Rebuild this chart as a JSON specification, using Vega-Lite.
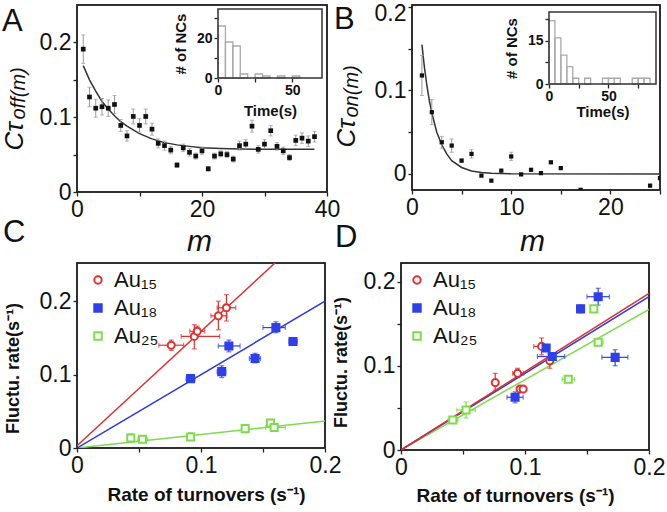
{
  "$schema": "https://vega.github.io/schema/vega-lite/v6.json",
  "background": "white",
  "padding": {"left": 0, "top": 1, "right": 0, "bottom": 0},
  "config": {
    "font": "Liberation Sans",
    "view": {"stroke": "#222", "strokeWidth": 1.5},
    "axis": {"labelFont": "Liberation Sans", "titleFont": "Liberation Sans", "labelFontSize": 23, "labelColor": "#111", "titleColor": "#111", "tickColor": "#222", "tickSize": 4, "tickWidth": 1.3, "labelPadding": 2, "grid": false, "domain": false, "labelFlush": false, "labelOverlap": false, "labelBound": false}
  },
  "datasets": {
    "A_pts": [
      {"m":1,"v":0.191,"lo":0.172,"hi":0.210},{"m":2,"v":0.127,"lo":0.114,"hi":0.140},{"m":3,"v":0.112,"lo":0.100,"hi":0.124},{"m":4,"v":0.114,"lo":0.103,"hi":0.125},{"m":5,"v":0.112,"lo":0.101,"hi":0.123},{"m":6,"v":0.117,"lo":0.105,"hi":0.129},{"m":7,"v":0.089,"lo":0.081,"hi":0.097},{"m":8,"v":0.075,"lo":0.068,"hi":0.082},{"m":9,"v":0.101,"lo":0.091,"hi":0.111},{"m":10,"v":0.089,"lo":0.080,"hi":0.098},{"m":11,"v":0.101,"lo":0.091,"hi":0.111},{"m":12,"v":0.084,"lo":0.076,"hi":0.092},{"m":13,"v":0.065,"lo":0.059,"hi":0.071},{"m":14,"v":0.062,"lo":0.056,"hi":0.068},{"m":15,"v":0.056,"lo":0.051,"hi":0.061},{"m":16,"v":0.036,"lo":0.033,"hi":0.039},{"m":17,"v":0.059,"lo":0.054,"hi":0.064},{"m":18,"v":0.053,"lo":0.048,"hi":0.058},{"m":19,"v":0.048,"lo":0.044,"hi":0.052},{"m":20,"v":0.055,"lo":0.050,"hi":0.060},{"m":21,"v":0.031,"lo":0.028,"hi":0.034},{"m":22,"v":0.048,"lo":0.044,"hi":0.052},{"m":23,"v":0.051,"lo":0.047,"hi":0.055},{"m":24,"v":0.050,"lo":0.046,"hi":0.054},{"m":25,"v":0.044,"lo":0.040,"hi":0.048},{"m":26,"v":0.062,"lo":0.056,"hi":0.068},{"m":27,"v":0.064,"lo":0.058,"hi":0.070},{"m":28,"v":0.088,"lo":0.080,"hi":0.096},{"m":29,"v":0.057,"lo":0.052,"hi":0.062},{"m":30,"v":0.064,"lo":0.058,"hi":0.070},{"m":31,"v":0.082,"lo":0.075,"hi":0.089},{"m":32,"v":0.061,"lo":0.056,"hi":0.066},{"m":33,"v":0.055,"lo":0.050,"hi":0.060},{"m":34,"v":0.046,"lo":0.042,"hi":0.050},{"m":35,"v":0.069,"lo":0.062,"hi":0.076},{"m":36,"v":0.072,"lo":0.065,"hi":0.079},{"m":37,"v":0.068,"lo":0.061,"hi":0.075},{"m":38,"v":0.074,"lo":0.067,"hi":0.081}
    ],
    "A_curve": [
      {"m":1,"v":0.169},{"m":2,"v":0.150},{"m":3,"v":0.135},{"m":4,"v":0.121},{"m":5,"v":0.111},{"m":6,"v":0.102},{"m":7,"v":0.094},{"m":8,"v":0.088},{"m":9,"v":0.083},{"m":10,"v":0.078},{"m":12,"v":0.071},{"m":14,"v":0.066},{"m":16,"v":0.063},{"m":18,"v":0.061},{"m":20,"v":0.059},{"m":23,"v":0.058},{"m":26,"v":0.0575},{"m":30,"v":0.057},{"m":38,"v":0.057}
    ],
    "A_hist": [
      {"t0":0,"t1":5,"n":26},{"t0":5,"t1":10,"n":18},{"t0":10,"t1":15,"n":16},{"t0":15,"t1":20,"n":2},{"t0":25,"t1":30,"n":2},{"t0":30,"t1":35,"n":1},{"t0":40,"t1":45,"n":1},{"t0":50,"t1":55,"n":1}
    ],
    "B_pts": [
      {"m":1,"v":0.118,"lo":0.094,"hi":0.142},{"m":2,"v":0.074,"lo":0.059,"hi":0.089},{"m":3,"v":0.038,"lo":0.031,"hi":0.045},{"m":4,"v":0.034,"lo":0.026,"hi":0.042},{"m":5,"v":0.016,"lo":0.014,"hi":0.018},{"m":6,"v":0.024,"lo":0.019,"hi":0.029},{"m":7,"v":-0.002},{"m":8,"v":-0.008},{"m":9,"v":0.004},{"m":10,"v":0.021,"lo":0.016,"hi":0.026},{"m":11,"v":-0.0005},{"m":12,"v":0.005},{"m":13,"v":0.001},{"m":14,"v":0.014},{"m":15,"v":0.007},{"m":17,"v":-0.019},{"m":24,"v":-0.014},{"m":25,"v":-0.005}
    ],
    "B_curve": [
      {"m":1,"v":0.155},{"m":1.25,"v":0.128},{"m":1.5,"v":0.106},{"m":1.75,"v":0.088},{"m":2,"v":0.073},{"m":2.5,"v":0.050},{"m":3,"v":0.035},{"m":3.5,"v":0.024},{"m":4,"v":0.016},{"m":5,"v":0.0078},{"m":6,"v":0.0036},{"m":7,"v":0.0017},{"m":8,"v":0.0008},{"m":10,"v":0.0002},{"m":25,"v":0}
    ],
    "B_hist": [
      {"t0":0,"t1":5,"n":22},{"t0":5,"t1":10,"n":16},{"t0":10,"t1":15,"n":10},{"t0":15,"t1":20,"n":6},{"t0":20,"t1":25,"n":2},{"t0":30,"t1":35,"n":2},{"t0":45,"t1":50,"n":2},{"t0":50,"t1":55,"n":2},{"t0":55,"t1":60,"n":2},{"t0":70,"t1":75,"n":2},{"t0":75,"t1":80,"n":2},{"t0":80,"t1":85,"n":2}
    ],
    "C_pts": [
      {"s":"Au₁₅","x":0.076,"y":0.140,"xlo":0.066,"xhi":0.086,"ylo":0.133,"yhi":0.147},
      {"s":"Au₁₅","x":0.0946,"y":0.152,"xlo":0.084,"xhi":0.115,"ylo":0.135,"yhi":0.168},
      {"s":"Au₁₅","x":0.097,"y":0.159,"xlo":0.091,"xhi":0.103,"ylo":0.152,"yhi":0.166},
      {"s":"Au₁₅","x":0.114,"y":0.180,"xlo":0.108,"xhi":0.121,"ylo":0.161,"yhi":0.200},
      {"s":"Au₁₅","x":0.1205,"y":0.191,"xlo":0.113,"xhi":0.128,"ylo":0.173,"yhi":0.209},
      {"s":"Au₁₈","x":0.0916,"y":0.0945,"xlo":0.088,"xhi":0.095,"ylo":0.090,"yhi":0.099},
      {"s":"Au₁₈","x":0.1167,"y":0.104,"xlo":0.113,"xhi":0.120,"ylo":0.096,"yhi":0.112},
      {"s":"Au₁₈","x":0.1225,"y":0.139,"xlo":0.114,"xhi":0.1315,"ylo":0.131,"yhi":0.147},
      {"s":"Au₁₈","x":0.1436,"y":0.122,"xlo":0.139,"xhi":0.148,"ylo":0.116,"yhi":0.129},
      {"s":"Au₁₈","x":0.1604,"y":0.164,"xlo":0.150,"xhi":0.168,"ylo":0.157,"yhi":0.172},
      {"s":"Au₁₈","x":0.1742,"y":0.145,"xlo":0.171,"xhi":0.1775,"ylo":0.142,"yhi":0.148},
      {"s":"Au₂₅","x":0.0434,"y":0.0136,"ylo":0.008,"yhi":0.0195},
      {"s":"Au₂₅","x":0.0528,"y":0.012,"xlo":0.049,"xhi":0.057},
      {"s":"Au₂₅","x":0.0916,"y":0.015,"ylo":0.010,"yhi":0.021},
      {"s":"Au₂₅","x":0.1356,"y":0.0264},
      {"s":"Au₂₅","x":0.156,"y":0.034,"ylo":0.030,"yhi":0.037},
      {"s":"Au₂₅","x":0.159,"y":0.028,"xlo":0.152,"xhi":0.168}
    ],
    "C_lines": [
      {"s":"Au₂₅","x":0,"y":0},{"s":"Au₂₅","x":0.2,"y":0.0368},
      {"s":"Au₁₈","x":0,"y":0},{"s":"Au₁₈","x":0.2,"y":0.2},
      {"s":"Au₁₅","x":0,"y":0.003},{"s":"Au₁₅","x":0.2,"y":0.315}
    ],
    "D_pts": [
      {"s":"Au₁₅","x":0.076,"y":0.080,"ylo":0.071,"yhi":0.091},
      {"s":"Au₁₅","x":0.094,"y":0.091,"xlo":0.090,"xhi":0.099,"ylo":0.086,"yhi":0.097},
      {"s":"Au₁₅","x":0.096,"y":0.0725},
      {"s":"Au₁₅","x":0.0985,"y":0.0725},
      {"s":"Au₁₅","x":0.1134,"y":0.123,"xlo":0.107,"xhi":0.120,"ylo":0.113,"yhi":0.133},
      {"s":"Au₁₅","x":0.120,"y":0.106,"ylo":0.097,"yhi":0.114},
      {"s":"Au₁₈","x":0.092,"y":0.0626,"xlo":0.0855,"xhi":0.0985,"ylo":0.056,"yhi":0.069},
      {"s":"Au₁₈","x":0.117,"y":0.121},
      {"s":"Au₁₈","x":0.122,"y":0.111,"xlo":0.110,"xhi":0.132},
      {"s":"Au₁₈","x":0.1448,"y":0.1675,"ylo":0.163,"yhi":0.172},
      {"s":"Au₁₈","x":0.159,"y":0.182,"xlo":0.150,"xhi":0.168,"ylo":0.172,"yhi":0.192},
      {"s":"Au₁₈","x":0.1727,"y":0.110,"xlo":0.162,"xhi":0.183,"ylo":0.100,"yhi":0.119},
      {"s":"Au₂₅","x":0.0418,"y":0.0356,"xlo":0.038,"xhi":0.046},
      {"s":"Au₂₅","x":0.0525,"y":0.0475,"xlo":0.045,"xhi":0.060,"ylo":0.038,"yhi":0.057},
      {"s":"Au₂₅","x":0.1349,"y":0.084,"xlo":0.130,"xhi":0.140},
      {"s":"Au₂₅","x":0.1555,"y":0.1675},
      {"s":"Au₂₅","x":0.159,"y":0.128,"xlo":0.156,"xhi":0.163}
    ],
    "D_lines": [
      {"s":"Au₂₅","x":0,"y":0},{"s":"Au₂₅","x":0.2,"y":0.167},
      {"s":"Au₁₈","x":0,"y":0},{"s":"Au₁₈","x":0.2,"y":0.182},
      {"s":"Au₁₅","x":0,"y":0},{"s":"Au₁₅","x":0.2,"y":0.186}
    ]
  },
  "spacing": -41,
  "resolve": {"scale": {"fill": "independent", "stroke": "independent", "shape": "independent"}, "legend": {"fill": "independent", "stroke": "independent", "shape": "independent"}},
  "vconcat": [
    {
      "hconcat": [
        {
          "width": 250, "height": 187,
          "title": {"text": "A", "anchor": "start", "frame": "group", "dx": -75, "dy": 34, "baseline": "top", "offset": 0, "fontSize": 31, "fontWeight": "normal", "font": "Liberation Sans", "color": "#111"},
          "resolve": {"scale": {"x": "independent", "y": "independent"}},
          "layer": [
            {
              "layer": [
                {
                  "data": {"values": [{}]},
                  "mark": {"type": "rect", "fill": "transparent", "stroke": "#222", "strokeWidth": 1.5},
                  "encoding": {
                    "x": {"datum": 0, "type": "quantitative", "title": "m", "scale": {"domain": [0, 40], "nice": false}, "axis": {"values": [0, 10, 20, 30, 40], "labelExpr": "indexof([0,20,40], datum.value) >= 0 ? toString(datum.value) : ''", "title": "m", "titleFontSize": 30, "titleFontStyle": "italic", "titleFontWeight": "normal", "titleBaseline": "alphabetic", "titleX": 122, "titleY": 58}},
                    "x2": {"datum": 40},
                    "y": {"datum": 0, "type": "quantitative", "title": "Cτ", "scale": {"domain": [0, 0.25], "nice": false}, "axis": {"values": [0, 0.05, 0.1, 0.15, 0.2], "labelExpr": "indexof([0,0.1,0.2], datum.value) >= 0 ? toString(datum.value) : ''", "title": "Cτ", "titleFontSize": 26, "titleFontStyle": "italic", "titleFontWeight": "normal", "titleAngle": 270, "titleAlign": "left", "titleBaseline": "alphabetic", "titleX": -55, "titleY": 145}},
                    "y2": {"datum": 0.25}
                  }
                },
                {
                  "data": {"name": "A_curve"},
                  "mark": {"type": "line", "color": "#333", "strokeWidth": 1.5},
                  "encoding": {
                    "x": {"field": "m", "type": "quantitative", "title": "m"},
                    "y": {"field": "v", "type": "quantitative", "title": "Cτ"}
                  }
                },
                {
                  "data": {"name": "A_pts"},
                  "mark": {"type": "errorbar", "ticks": true, "size": 4, "color": "#999", "thickness": 1},
                  "encoding": {
                    "x": {"field": "m", "type": "quantitative", "title": "m"},
                    "y": {"field": "lo", "type": "quantitative", "title": "Cτ"},
                    "y2": {"field": "hi"}
                  }
                },
                {
                  "data": {"name": "A_pts"},
                  "mark": {"type": "point", "shape": "square", "filled": true, "color": "#111", "size": 22, "opacity": 1},
                  "encoding": {
                    "x": {"field": "m", "type": "quantitative", "title": "m"},
                    "y": {"field": "v", "type": "quantitative", "title": "Cτ"}
                  }
                }
              ]
            },
            {
              "layer": [
                {
                  "data": {"name": "A_hist"},
                  "mark": {"type": "rect", "fill": "transparent", "stroke": "#aaa", "strokeWidth": 1.3},
                  "encoding": {
                    "x": {"field": "t0", "type": "quantitative", "title": "Time(s)", "scale": {"domain": [0, 70], "range": [141, 245], "nice": false, "zero": false}, "axis": {"orient": "bottom", "offset": -114, "values": [0, 25, 50], "labelExpr": "datum.value == 25 ? '' : toString(datum.value)", "labelFontSize": 14, "labelFontWeight": "bold", "labelPadding": 1, "tickSize": 4, "title": "Time(s)", "titleFontSize": 15, "titleFontWeight": "bold", "titlePadding": 6}},
                    "x2": {"field": "t1"},
                    "y": {"field": "n", "type": "quantitative", "title": "# of NCs", "scale": {"domain": [0, 34.5], "range": [73, 4], "nice": false}, "axis": {"orient": "left", "offset": -141, "values": [0, 10, 20, 30], "labelExpr": "datum.value == 0 || datum.value == 20 ? toString(datum.value) : ''", "labelFontSize": 14, "labelFontWeight": "bold", "labelPadding": 2, "tickSize": 4, "title": "# of NCs", "titleFontSize": 15, "titleFontWeight": "bold", "titlePadding": 8}},
                    "y2": {"datum": 0}
                  }
                },
                {
                  "data": {"values": [{}]},
                  "mark": {"type": "rect", "fill": "transparent", "stroke": "#333", "strokeWidth": 1.5},
                  "encoding": {
                    "x": {"datum": 0, "type": "quantitative", "title": "Time(s)"},
                    "x2": {"datum": 70},
                    "y": {"datum": 0, "type": "quantitative", "title": "# of NCs"},
                    "y2": {"datum": 34.5}
                  }
                }
              ]
            },
            {
              "data": {"values": [{}]},
              "mark": {"type": "text", "text": ""},
              "encoding": {
                "y": {"datum": 0, "type": "quantitative", "scale": {"domain": [0, 1]}, "axis": {"orient": "left", "domain": false, "ticks": false, "labels": false, "grid": false, "title": "off(m)", "titleFontSize": 20, "titleFontStyle": "italic", "titleFontWeight": "normal", "titleAngle": 270, "titleAlign": "left", "titleBaseline": "alphabetic", "titleX": -53, "titleY": 114}}
              }
            }
          ]
        },
        {
          "width": 248, "height": 185,
          "title": {"text": "B", "anchor": "start", "frame": "group", "dx": -78, "dy": 34, "baseline": "top", "offset": 0, "fontSize": 31, "fontWeight": "normal", "font": "Liberation Sans", "color": "#111"},
          "resolve": {"scale": {"x": "independent", "y": "independent"}},
          "layer": [
            {
              "layer": [
                {
                  "data": {"values": [{}]},
                  "mark": {"type": "rect", "fill": "transparent", "stroke": "#222", "strokeWidth": 1.5},
                  "encoding": {
                    "x": {"datum": 0, "type": "quantitative", "title": "m", "scale": {"domain": [0, 25], "nice": false}, "axis": {"values": [0, 5, 10, 15, 20, 25], "labelExpr": "indexof([0,10,20], datum.value) >= 0 ? toString(datum.value) : ''", "title": "m", "titleFontSize": 30, "titleFontStyle": "italic", "titleFontWeight": "normal", "titleBaseline": "alphabetic", "titleX": 120, "titleY": 60}},
                    "x2": {"datum": 25},
                    "y": {"datum": -0.0192, "type": "quantitative", "title": "Cτ", "scale": {"domain": [-0.0192, 0.2024], "nice": false, "zero": false}, "axis": {"values": [0, 0.05, 0.1, 0.15, 0.2], "labelExpr": "indexof([0,0.1,0.2], datum.value) >= 0 ? toString(datum.value) : ''", "labelOffset": {"condition": {"test": "datum.value == 0.2", "value": 6}, "value": 0}, "title": "Cτ", "titleFontSize": 26, "titleFontStyle": "italic", "titleFontWeight": "normal", "titleAngle": 270, "titleAlign": "left", "titleBaseline": "alphabetic", "titleX": -58, "titleY": 142}},
                    "y2": {"datum": 0.2024}
                  }
                },
                {
                  "data": {"name": "B_curve"},
                  "mark": {"type": "line", "color": "#333", "strokeWidth": 1.5},
                  "encoding": {
                    "x": {"field": "m", "type": "quantitative", "title": "m"},
                    "y": {"field": "v", "type": "quantitative", "title": "Cτ"}
                  }
                },
                {
                  "data": {"name": "B_pts"},
                  "transform": [{"filter": "isValid(datum.lo)"}],
                  "mark": {"type": "errorbar", "ticks": true, "size": 4, "color": "#999", "thickness": 1},
                  "encoding": {
                    "x": {"field": "m", "type": "quantitative", "title": "m"},
                    "y": {"field": "lo", "type": "quantitative", "title": "Cτ"},
                    "y2": {"field": "hi"}
                  }
                },
                {
                  "data": {"name": "B_pts"},
                  "mark": {"type": "point", "shape": "square", "filled": true, "color": "#111", "size": 18, "opacity": 1, "clip": true},
                  "encoding": {
                    "x": {"field": "m", "type": "quantitative", "title": "m"},
                    "y": {"field": "v", "type": "quantitative", "title": "Cτ"}
                  }
                }
              ]
            },
            {
              "layer": [
                {
                  "data": {"name": "B_hist"},
                  "mark": {"type": "rect", "fill": "transparent", "stroke": "#aaa", "strokeWidth": 1.3},
                  "encoding": {
                    "x": {"field": "t0", "type": "quantitative", "title": "Time(s)", "scale": {"domain": [0, 90], "range": [137, 244], "nice": false, "zero": false}, "axis": {"orient": "bottom", "offset": -106, "values": [0, 25, 50, 75], "labelExpr": "datum.value == 0 || datum.value == 50 ? toString(datum.value) : ''", "labelFontSize": 14, "labelFontWeight": "bold", "labelPadding": 1, "tickSize": 4, "title": "Time(s)", "titleFontSize": 15, "titleFontWeight": "bold", "titlePadding": 1}},
                    "x2": {"field": "t1"},
                    "y": {"field": "n", "type": "quantitative", "title": "# of NCs", "scale": {"domain": [0, 25], "range": [79, 7], "nice": false}, "axis": {"orient": "left", "offset": -137, "values": [0, 7.5, 15, 22.5], "labelExpr": "datum.value == 0 || datum.value == 15 ? toString(datum.value) : ''", "labelFontSize": 14, "labelFontWeight": "bold", "labelPadding": 2, "tickSize": 4, "title": "# of NCs", "titleFontSize": 15, "titleFontWeight": "bold", "titlePadding": 8}},
                    "y2": {"datum": 0}
                  }
                },
                {
                  "data": {"values": [{}]},
                  "mark": {"type": "rect", "fill": "transparent", "stroke": "#333", "strokeWidth": 1.5},
                  "encoding": {
                    "x": {"datum": 0, "type": "quantitative", "title": "Time(s)"},
                    "x2": {"datum": 90},
                    "y": {"datum": 0, "type": "quantitative", "title": "# of NCs"},
                    "y2": {"datum": 25}
                  }
                }
              ]
            },
            {
              "data": {"values": [{}]},
              "mark": {"type": "text", "text": ""},
              "encoding": {
                "y": {"datum": 0, "type": "quantitative", "scale": {"domain": [0, 1]}, "axis": {"orient": "left", "domain": false, "ticks": false, "labels": false, "grid": false, "title": "on(m)", "titleFontSize": 20, "titleFontStyle": "italic", "titleFontWeight": "normal", "titleAngle": 270, "titleAlign": "left", "titleBaseline": "alphabetic", "titleX": -55, "titleY": 112}}
              }
            }
          ]
        }
      ],
      "spacing": 85,
      "bounds": "flush"
    },
    {
      "hconcat": [
        {
          "width": 248, "height": 185,
          "title": {"text": "C", "anchor": "start", "frame": "group", "dx": -74, "dy": -13, "baseline": "top", "offset": 0, "fontSize": 31, "fontWeight": "normal", "font": "Liberation Sans", "color": "#111"},
          "layer": [
            {
              "data": {"values": [{}]},
              "mark": {"type": "rect", "fill": "transparent", "stroke": "#222", "strokeWidth": 1.5},
              "encoding": {
                "x": {"datum": 0, "type": "quantitative", "title": "Rate of turnovers (s⁻¹)", "scale": {"domain": [0, 0.2], "nice": false}, "axis": {"values": [0, 0.05, 0.1, 0.15, 0.2], "labelExpr": "indexof([0,0.1,0.2], datum.value) >= 0 ? toString(datum.value) : ''", "title": "Rate of turnovers (s⁻¹)", "titleFontSize": 19, "titleFontWeight": "bold", "titleBaseline": "alphabetic", "titleX": 129, "titleY": 52}},
                "x2": {"datum": 0.2},
                "y": {"datum": 0, "type": "quantitative", "title": "Fluctu. rate(s⁻¹)", "scale": {"domain": [0, 0.252], "nice": false}, "axis": {"values": [0, 0.05, 0.1, 0.15, 0.2, 0.25], "labelExpr": "indexof([0,0.1,0.2], datum.value) >= 0 ? toString(datum.value) : ''", "title": "Fluctu. rate(s⁻¹)", "titleFontSize": 18, "titleFontWeight": "bold", "titleAngle": 270, "titleAlign": "center", "titleBaseline": "alphabetic", "titleX": -59, "titleY": 105}},
                "y2": {"datum": 0.252}
              }
            },
            {"data": {"name": "C_lines"}, "transform": [{"filter": "datum.s == 'Au₂₅'"}], "mark": {"type": "line", "color": "#7ddc4a", "strokeWidth": 1.5, "clip": true}, "encoding": {"x": {"field": "x", "type": "quantitative", "title": "Rate of turnovers (s⁻¹)"}, "y": {"field": "y", "type": "quantitative", "title": "Fluctu. rate(s⁻¹)"}}},
            {"data": {"name": "C_lines"}, "transform": [{"filter": "datum.s == 'Au₁₈'"}], "mark": {"type": "line", "color": "#2a36e0", "strokeWidth": 1.5, "clip": true}, "encoding": {"x": {"field": "x", "type": "quantitative", "title": "Rate of turnovers (s⁻¹)"}, "y": {"field": "y", "type": "quantitative", "title": "Fluctu. rate(s⁻¹)"}}},
            {"data": {"name": "C_lines"}, "transform": [{"filter": "datum.s == 'Au₁₅'"}], "mark": {"type": "line", "color": "#dd3030", "strokeWidth": 1.5, "clip": true}, "encoding": {"x": {"field": "x", "type": "quantitative", "title": "Rate of turnovers (s⁻¹)"}, "y": {"field": "y", "type": "quantitative", "title": "Fluctu. rate(s⁻¹)"}}},
            {"data": {"name": "C_pts"}, "transform": [{"filter": "isValid(datum.ylo) && datum.s == 'Au₁₅'"}], "mark": {"type": "errorbar", "ticks": true, "size": 5, "thickness": 1.2, "color": "#e03030"}, "encoding": {"x": {"field": "x", "type": "quantitative", "title": "Rate of turnovers (s⁻¹)"}, "y": {"field": "ylo", "type": "quantitative", "title": "Fluctu. rate(s⁻¹)"}, "y2": {"field": "yhi"}}},
            {"data": {"name": "C_pts"}, "transform": [{"filter": "isValid(datum.ylo) && datum.s == 'Au₁₈'"}], "mark": {"type": "errorbar", "ticks": true, "size": 5, "thickness": 1.2, "color": "#3040e8"}, "encoding": {"x": {"field": "x", "type": "quantitative", "title": "Rate of turnovers (s⁻¹)"}, "y": {"field": "ylo", "type": "quantitative", "title": "Fluctu. rate(s⁻¹)"}, "y2": {"field": "yhi"}}},
            {"data": {"name": "C_pts"}, "transform": [{"filter": "isValid(datum.ylo) && datum.s == 'Au₂₅'"}], "mark": {"type": "errorbar", "ticks": true, "size": 5, "thickness": 1.2, "color": "#7ddc4a"}, "encoding": {"x": {"field": "x", "type": "quantitative", "title": "Rate of turnovers (s⁻¹)"}, "y": {"field": "ylo", "type": "quantitative", "title": "Fluctu. rate(s⁻¹)"}, "y2": {"field": "yhi"}}},
            {"data": {"name": "C_pts"}, "transform": [{"filter": "isValid(datum.xlo) && datum.s == 'Au₁₅'"}], "mark": {"type": "errorbar", "ticks": true, "size": 5, "thickness": 1.2, "color": "#e03030", "orient": "horizontal"}, "encoding": {"y": {"field": "y", "type": "quantitative", "title": "Fluctu. rate(s⁻¹)"}, "x": {"field": "xlo", "type": "quantitative", "title": "Rate of turnovers (s⁻¹)"}, "x2": {"field": "xhi"}}},
            {"data": {"name": "C_pts"}, "transform": [{"filter": "isValid(datum.xlo) && datum.s == 'Au₁₈'"}], "mark": {"type": "errorbar", "ticks": true, "size": 5, "thickness": 1.2, "color": "#3040e8", "orient": "horizontal"}, "encoding": {"y": {"field": "y", "type": "quantitative", "title": "Fluctu. rate(s⁻¹)"}, "x": {"field": "xlo", "type": "quantitative", "title": "Rate of turnovers (s⁻¹)"}, "x2": {"field": "xhi"}}},
            {"data": {"name": "C_pts"}, "transform": [{"filter": "isValid(datum.xlo) && datum.s == 'Au₂₅'"}], "mark": {"type": "errorbar", "ticks": true, "size": 5, "thickness": 1.2, "color": "#7ddc4a", "orient": "horizontal"}, "encoding": {"y": {"field": "y", "type": "quantitative", "title": "Fluctu. rate(s⁻¹)"}, "x": {"field": "xlo", "type": "quantitative", "title": "Rate of turnovers (s⁻¹)"}, "x2": {"field": "xhi"}}},
            {
              "data": {"name": "C_pts"},
              "mark": {"type": "point", "size": 50, "strokeWidth": 2, "opacity": 1},
              "encoding": {
                "x": {"field": "x", "type": "quantitative", "title": "Rate of turnovers (s⁻¹)"},
                "y": {"field": "y", "type": "quantitative", "title": "Fluctu. rate(s⁻¹)"},
                "shape": {"field": "s", "type": "nominal", "scale": {"domain": ["Au₁₅", "Au₁₈", "Au₂₅"], "range": ["circle", "square", "square"]}, "legend": {"orient": "none", "legendX": 10, "legendY": 6, "title": null, "labelFontSize": 22, "labelFont": "Liberation Sans", "labelColor": "#111", "symbolSize": 55, "symbolStrokeWidth": 2, "rowPadding": 6, "padding": 0, "labelOffset": 5}},
                "stroke": {"field": "s", "type": "nominal", "scale": {"domain": ["Au₁₅", "Au₁₈", "Au₂₅"], "range": ["#e03030", "#3040e8", "#7ddc4a"]}, "legend": {"orient": "none", "legendX": 10, "legendY": 6, "title": null, "labelFontSize": 22, "labelFont": "Liberation Sans", "labelColor": "#111", "symbolSize": 55, "symbolStrokeWidth": 2, "rowPadding": 6, "padding": 0, "labelOffset": 5}},
                "fill": {"field": "s", "type": "nominal", "scale": {"domain": ["Au₁₅", "Au₁₈", "Au₂₅"], "range": ["white", "#3040e8", "white"]}, "legend": {"orient": "none", "legendX": 10, "legendY": 6, "title": null, "labelFontSize": 22, "labelFont": "Liberation Sans", "labelColor": "#111", "symbolSize": 55, "symbolStrokeWidth": 2, "rowPadding": 6, "padding": 0, "labelOffset": 5}}
              }
            }
          ]
        },
        {
          "width": 248, "height": 187,
          "title": {"text": "D", "anchor": "start", "frame": "group", "dx": -66, "dy": -8, "baseline": "top", "offset": 0, "fontSize": 31, "fontWeight": "normal", "font": "Liberation Sans", "color": "#111"},
          "layer": [
            {
              "data": {"values": [{}]},
              "mark": {"type": "rect", "fill": "transparent", "stroke": "#222", "strokeWidth": 1.5},
              "encoding": {
                "x": {"datum": 0, "type": "quantitative", "title": "Rate of turnovers (s⁻¹)", "scale": {"domain": [0, 0.2], "nice": false}, "axis": {"values": [0, 0.05, 0.1, 0.15, 0.2], "labelExpr": "indexof([0,0.1,0.2], datum.value) >= 0 ? toString(datum.value) : ''", "title": "Rate of turnovers (s⁻¹)", "titleFontSize": 19, "titleFontWeight": "bold", "titleBaseline": "alphabetic", "titleX": 114, "titleY": 51}},
                "x2": {"datum": 0.2},
                "y": {"datum": 0, "type": "quantitative", "title": "Fluctu. rate(s⁻¹)", "scale": {"domain": [0, 0.222], "nice": false}, "axis": {"values": [0, 0.05, 0.1, 0.15, 0.2], "labelExpr": "indexof([0,0.1,0.2], datum.value) >= 0 ? toString(datum.value) : ''", "title": "Fluctu. rate(s⁻¹)", "titleFontSize": 18, "titleFontWeight": "bold", "titleAngle": 270, "titleAlign": "center", "titleBaseline": "alphabetic", "titleX": -55, "titleY": 99}},
                "y2": {"datum": 0.222}
              }
            },
            {"data": {"name": "D_lines"}, "transform": [{"filter": "datum.s == 'Au₂₅'"}], "mark": {"type": "line", "color": "#7ddc4a", "strokeWidth": 1.5, "clip": true}, "encoding": {"x": {"field": "x", "type": "quantitative", "title": "Rate of turnovers (s⁻¹)"}, "y": {"field": "y", "type": "quantitative", "title": "Fluctu. rate(s⁻¹)"}}},
            {"data": {"name": "D_lines"}, "transform": [{"filter": "datum.s == 'Au₁₈'"}], "mark": {"type": "line", "color": "#2a36e0", "strokeWidth": 1.5, "clip": true}, "encoding": {"x": {"field": "x", "type": "quantitative", "title": "Rate of turnovers (s⁻¹)"}, "y": {"field": "y", "type": "quantitative", "title": "Fluctu. rate(s⁻¹)"}}},
            {"data": {"name": "D_lines"}, "transform": [{"filter": "datum.s == 'Au₁₅'"}], "mark": {"type": "line", "color": "#dd3030", "strokeWidth": 1.5, "clip": true}, "encoding": {"x": {"field": "x", "type": "quantitative", "title": "Rate of turnovers (s⁻¹)"}, "y": {"field": "y", "type": "quantitative", "title": "Fluctu. rate(s⁻¹)"}}},
            {"data": {"name": "D_pts"}, "transform": [{"filter": "isValid(datum.ylo) && datum.s == 'Au₁₅'"}], "mark": {"type": "errorbar", "ticks": true, "size": 5, "thickness": 1.2, "color": "#e03030"}, "encoding": {"x": {"field": "x", "type": "quantitative", "title": "Rate of turnovers (s⁻¹)"}, "y": {"field": "ylo", "type": "quantitative", "title": "Fluctu. rate(s⁻¹)"}, "y2": {"field": "yhi"}}},
            {"data": {"name": "D_pts"}, "transform": [{"filter": "isValid(datum.ylo) && datum.s == 'Au₁₈'"}], "mark": {"type": "errorbar", "ticks": true, "size": 5, "thickness": 1.2, "color": "#3040e8"}, "encoding": {"x": {"field": "x", "type": "quantitative", "title": "Rate of turnovers (s⁻¹)"}, "y": {"field": "ylo", "type": "quantitative", "title": "Fluctu. rate(s⁻¹)"}, "y2": {"field": "yhi"}}},
            {"data": {"name": "D_pts"}, "transform": [{"filter": "isValid(datum.ylo) && datum.s == 'Au₂₅'"}], "mark": {"type": "errorbar", "ticks": true, "size": 5, "thickness": 1.2, "color": "#7ddc4a"}, "encoding": {"x": {"field": "x", "type": "quantitative", "title": "Rate of turnovers (s⁻¹)"}, "y": {"field": "ylo", "type": "quantitative", "title": "Fluctu. rate(s⁻¹)"}, "y2": {"field": "yhi"}}},
            {"data": {"name": "D_pts"}, "transform": [{"filter": "isValid(datum.xlo) && datum.s == 'Au₁₅'"}], "mark": {"type": "errorbar", "ticks": true, "size": 5, "thickness": 1.2, "color": "#e03030", "orient": "horizontal"}, "encoding": {"y": {"field": "y", "type": "quantitative", "title": "Fluctu. rate(s⁻¹)"}, "x": {"field": "xlo", "type": "quantitative", "title": "Rate of turnovers (s⁻¹)"}, "x2": {"field": "xhi"}}},
            {"data": {"name": "D_pts"}, "transform": [{"filter": "isValid(datum.xlo) && datum.s == 'Au₁₈'"}], "mark": {"type": "errorbar", "ticks": true, "size": 5, "thickness": 1.2, "color": "#3040e8", "orient": "horizontal"}, "encoding": {"y": {"field": "y", "type": "quantitative", "title": "Fluctu. rate(s⁻¹)"}, "x": {"field": "xlo", "type": "quantitative", "title": "Rate of turnovers (s⁻¹)"}, "x2": {"field": "xhi"}}},
            {"data": {"name": "D_pts"}, "transform": [{"filter": "isValid(datum.xlo) && datum.s == 'Au₂₅'"}], "mark": {"type": "errorbar", "ticks": true, "size": 5, "thickness": 1.2, "color": "#7ddc4a", "orient": "horizontal"}, "encoding": {"y": {"field": "y", "type": "quantitative", "title": "Fluctu. rate(s⁻¹)"}, "x": {"field": "xlo", "type": "quantitative", "title": "Rate of turnovers (s⁻¹)"}, "x2": {"field": "xhi"}}},
            {
              "data": {"name": "D_pts"},
              "mark": {"type": "point", "size": 50, "strokeWidth": 2, "opacity": 1},
              "encoding": {
                "x": {"field": "x", "type": "quantitative", "title": "Rate of turnovers (s⁻¹)"},
                "y": {"field": "y", "type": "quantitative", "title": "Fluctu. rate(s⁻¹)"},
                "shape": {"field": "s", "type": "nominal", "scale": {"domain": ["Au₁₅", "Au₁₈", "Au₂₅"], "range": ["circle", "square", "square"]}, "legend": {"orient": "none", "legendX": 5, "legendY": 6, "title": null, "labelFontSize": 22, "labelFont": "Liberation Sans", "labelColor": "#111", "symbolSize": 55, "symbolStrokeWidth": 2, "rowPadding": 6, "padding": 0, "labelOffset": 5}},
                "stroke": {"field": "s", "type": "nominal", "scale": {"domain": ["Au₁₅", "Au₁₈", "Au₂₅"], "range": ["#e03030", "#3040e8", "#7ddc4a"]}, "legend": {"orient": "none", "legendX": 5, "legendY": 6, "title": null, "labelFontSize": 22, "labelFont": "Liberation Sans", "labelColor": "#111", "symbolSize": 55, "symbolStrokeWidth": 2, "rowPadding": 6, "padding": 0, "labelOffset": 5}},
                "fill": {"field": "s", "type": "nominal", "scale": {"domain": ["Au₁₅", "Au₁₈", "Au₂₅"], "range": ["white", "#3040e8", "white"]}, "legend": {"orient": "none", "legendX": 5, "legendY": 6, "title": null, "labelFontSize": 22, "labelFont": "Liberation Sans", "labelColor": "#111", "symbolSize": 55, "symbolStrokeWidth": 2, "rowPadding": 6, "padding": 0, "labelOffset": 5}}
              }
            }
          ]
        }
      ],
      "spacing": 76,
      "bounds": "flush",
      "resolve": {"scale": {"fill": "independent", "stroke": "independent", "shape": "independent"}, "legend": {"fill": "independent", "stroke": "independent", "shape": "independent"}}
    }
  ]
}
